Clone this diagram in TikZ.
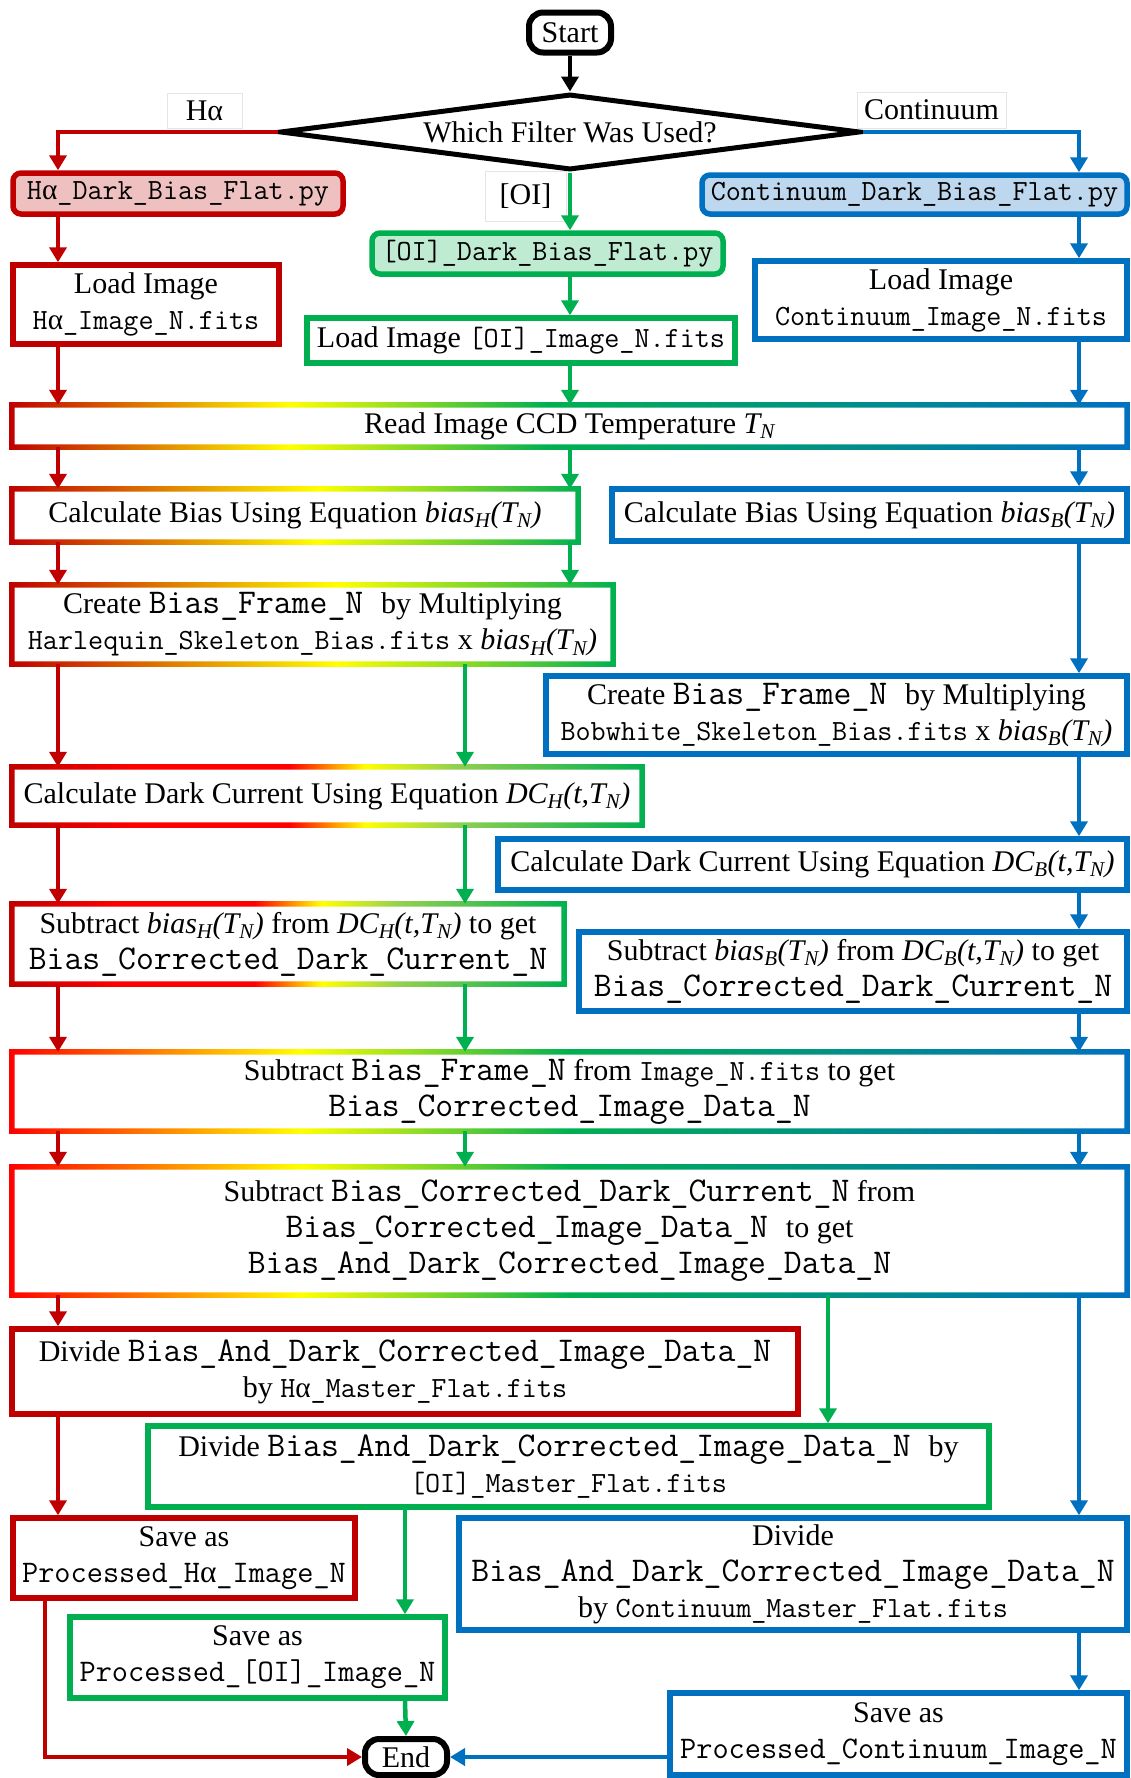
\documentclass[tikz,border=0pt]{standalone}
\usepackage{fontspec}
\setmainfont{Liberation Serif}
\usetikzlibrary{arrows.meta,shapes.geometric,calc}

\definecolor{cR}{HTML}{C00000}
\definecolor{cRR}{HTML}{FF0000}
\definecolor{cY}{HTML}{FFFF00}
\definecolor{cG}{HTML}{00B050}
\definecolor{cLG}{HTML}{92D050}
\definecolor{cB}{HTML}{0070C0}
\definecolor{fR}{HTML}{EFC0C0}
\definecolor{fG}{HTML}{BFEBD3}
\definecolor{fB}{HTML}{BDD7EE}

\pgfdeclarehorizontalshading{shRead}{100bp}{color(0bp)=(cR); color(25bp)=(cR); color(37.5bp)=(cY); color(49bp)=(cG); color(75bp)=(cB); color(100bp)=(cB)}
\pgfdeclarehorizontalshading{shSub}{100bp}{color(0bp)=(cRR); color(25bp)=(cRR); color(38bp)=(cY); color(50bp)=(cG); color(75bp)=(cB); color(100bp)=(cB)}
\pgfdeclarehorizontalshading{shHA}{100bp}{color(0bp)=(cR); color(25bp)=(cR); color(52bp)=(cY); color(75bp)=(cG); color(100bp)=(cG)}
\pgfdeclarehorizontalshading{shHB}{100bp}{color(0bp)=(cR); color(25bp)=(cR); color(35bp)=(cRR); color(47bp)=(cRR); color(53bp)=(cY); color(60bp)=(cLG); color(75bp)=(cG); color(100bp)=(cG)}

\newcommand\ttL{\ttfamily\fontsize{34.7}{36}\selectfont}
\newcommand\ttS{\ttfamily\fontsize{29.3}{36}\selectfont}
\newcommand\ttM{\ttfamily\fontsize{31.4}{36}\selectfont}
\newcommand\alp{{\rmfamily α}}
\newcommand\myTN{\textit{T\textsubscript{N}}}
\newcommand\biasX[1]{\textit{bias\textsubscript{#1}(T\textsubscript{N})}}
\newcommand\dcX[1]{\textit{DC\textsubscript{#1}(t,T\textsubscript{N})}}
\newcommand\gradring[2]{%
  \shade[shading=#2, even odd rule]
    ([shift={(-2.75pt,-2.75pt)}]#1.south west) rectangle ([shift={(2.75pt,2.75pt)}]#1.north east)
    ([shift={(2.75pt,2.75pt)}]#1.south west) rectangle ([shift={(-2.75pt,-2.75pt)}]#1.north east);}

\tikzset{
  base/.style={inner sep=0pt, align=center, font=\fontsize{30}{36}\selectfont},
  pbox/.style={base, draw=#1, line width=5.5pt},
  pybox/.style 2 args={base, draw=#1, fill=#2, line width=5.5pt, rounded corners=8pt},
  gbox/.style={base},
  term/.style={base, draw=black, line width=6pt, rounded corners=14pt},
  lbl/.style={base, draw=black!10, line width=0.8pt},
  arr/.style={line width=4.5pt, -{Triangle[length=15pt,width=17pt]}},
}

\begin{document}
\begin{tikzpicture}[x=1pt,y=-1pt]
\fill[white] (0,0) rectangle (1131,1778);
\useasboundingbox (0,0) rectangle (1131,1778);

% column coordinates
\coordinate (xr) at (58,0);
\coordinate (xrs) at (45,0);
\coordinate (xg1) at (570,0);
\coordinate (xg2) at (465,0);
\coordinate (xg3) at (828,0);
\coordinate (xg4) at (405,0);
\coordinate (xb) at (1079,0);

% terminals and decision
\node[term, minimum width=82, minimum height=40] (start) at (570,32.5) {Start};
\node[base, draw=black, line width=5pt, diamond, aspect=7.6, minimum width=580, minimum height=76] (dia) at (570,132) {Which Filter Was Used?};

% branch labels
\node[lbl, minimum width=75, minimum height=35] (lHa) at (204.5,110.5) {Hα};
\node[lbl, minimum width=81, minimum height=50] (lOI) at (525.5,196) {[OI]};
\node[lbl, minimum width=149, minimum height=36] (lCont) at (931.5,110) {Continuum};

% scripts
\node[pybox={cR}{fR}, minimum width=330, minimum height=41] (pyHa) at (178,193.5) {\ttS H\alp\_Dark\_Bias\_Flat.py};
\node[pybox={cG}{fG}, minimum width=351, minimum height=41] (pyOI) at (547.5,253.5) {\ttS [OI]\_Dark\_Bias\_Flat.py};
\node[pybox={cB}{fB}, minimum width=425, minimum height=39] (pyC) at (914.5,194.5) {\ttS Continuum\_Dark\_Bias\_Flat.py};

% load
\node[pbox=cR, minimum width=266, minimum height=79] (loadHa) at (146,304.5) {Load Image\\{\ttS H\alp\_Image\_N.fits}};
\node[pbox=cG, minimum width=428, minimum height=45] (loadOI) at (521,340.5) {Load Image {\ttS [OI]\_Image\_N.fits}};
\node[pbox=cB, minimum width=372, minimum height=78] (loadC) at (941,300) {Load Image\\{\ttS Continuum\_Image\_N.fits}};

% read temperature
\node[gbox, minimum width=1115, minimum height=42] (read) at (569.5,426) {Read Image CCD Temperature \myTN};
\gradring{read}{shRead}

% bias
\node[gbox, minimum width=566, minimum height=53] (calcBH) at (295,515.5) {Calculate Bias Using Equation \biasX{H}};
\gradring{calcBH}{shHA}
\node[pbox=cB, minimum width=515, minimum height=52] (calcBB) at (869.5,515) {Calculate Bias Using Equation \biasX{B}};

\node[gbox, minimum width=601, minimum height=79] (createH) at (312.5,624.5) {Create {\ttL Bias\_Frame\_N\ }by Multiplying\\{\ttS Harlequin\_Skeleton\_Bias.fits} x \biasX{H}};
\gradring{createH}{shHA}
\node[pbox=cB, minimum width=581, minimum height=78] (createB) at (836.5,715) {Create {\ttL Bias\_Frame\_N\ }by Multiplying\\{\ttS Bobwhite\_Skeleton\_Bias.fits} x \biasX{B}};

% dark current
\node[gbox, minimum width=630, minimum height=58] (calcDH) at (327,796) {Calculate Dark Current Using Equation \dcX{H}};
\gradring{calcDH}{shHB}
\node[pbox=cB, minimum width=629, minimum height=51] (calcDB) at (812.5,864.5) {Calculate Dark Current Using Equation \dcX{B}};

\node[gbox, minimum width=552, minimum height=80] (subH) at (288,944) {Subtract \biasX{H} from \dcX{H} to get\\{\ttL Bias\_Corrected\_Dark\_Current\_N}};
\gradring{subH}{shHB}
\node[pbox=cB, minimum width=548, minimum height=79] (subB) at (853,971.5) {Subtract \biasX{B} from \dcX{B} to get\\{\ttL Bias\_Corrected\_Dark\_Current\_N}};

% common steps
\node[gbox, minimum width=1115, minimum height=79] (subBF) at (569.5,1091.5) {Subtract {\ttL Bias\_Frame\_N} from {\ttS Image\_N.fits} to get\\{\ttL Bias\_Corrected\_Image\_Data\_N}};
\gradring{subBF}{shSub}
\node[gbox, minimum width=1115, minimum height=128] (subDC) at (569.5,1231) {Subtract {\ttL Bias\_Corrected\_Dark\_Current\_N} from\\{\ttL Bias\_Corrected\_Image\_Data\_N\ }to get\\{\ttL Bias\_And\_Dark\_Corrected\_Image\_Data\_N}};
\gradring{subDC}{shSub}

% flats
\node[pbox=cR, minimum width=786, minimum height=85] (divH) at (405,1371.5) {Divide {\ttL Bias\_And\_Dark\_Corrected\_Image\_Data\_N}\\by {\ttS H\alp\_Master\_Flat.fits}};
\node[pbox=cG, minimum width=841, minimum height=81] (divOI) at (568.5,1466.5) {Divide {\ttL Bias\_And\_Dark\_Corrected\_Image\_Data\_N\ }by\\{\ttS [OI]\_Master\_Flat.fits}};
\node[pbox=cB, minimum width=668, minimum height=112] (divC) at (793,1574) {Divide\\{\ttL Bias\_And\_Dark\_Corrected\_Image\_Data\_N}\\by {\ttS Continuum\_Master\_Flat.fits}};

% save
\node[pbox=cR, minimum width=342, minimum height=80] (saveH) at (184,1558) {Save as\\{\ttM Processed\_H\alp\_Image\_N}};
\node[pbox=cG, minimum width=375, minimum height=81] (saveOI) at (257.5,1657.5) {Save as\\{\ttM Processed\_[OI]\_Image\_N}};
\node[pbox=cB, minimum width=457, minimum height=82] (saveC) at (898.5,1734) {Save as\\{\ttM Processed\_Continuum\_Image\_N}};
\node[term, minimum width=82, minimum height=36] (end) at (406,1757) {End};

% ---------- connectors ----------
\draw[arr, black] (start.south) -- (dia.north);

% red (H-alpha)
\draw[arr, cR] (dia.west) -| (pyHa.north -| xr);
\draw[arr, cR] (pyHa.south -| xr) -- (loadHa.north -| xr);
\draw[arr, cR] (loadHa.south -| xr) -- (read.north -| xr);
\draw[arr, cR] (read.south -| xr) -- (calcBH.north -| xr);
\draw[arr, cR] (calcBH.south -| xr) -- (createH.north -| xr);
\draw[arr, cR] (createH.south -| xr) -- (calcDH.north -| xr);
\draw[arr, cR] (calcDH.south -| xr) -- (subH.north -| xr);
\draw[arr, cR] (subH.south -| xr) -- (subBF.north -| xr);
\draw[arr, cR] (subBF.south -| xr) -- (subDC.north -| xr);
\draw[arr, cR] (subDC.south -| xr) -- (divH.north -| xr);
\draw[arr, cR] (divH.south -| xr) -- (saveH.north -| xr);
\draw[arr, cR] (saveH.south -| xrs) |- (end.west);

% green ([OI])
\draw[arr, cG] (dia.south) -- (pyOI.north -| dia.south);
\draw[arr, cG] (pyOI.south -| xg1) -- (loadOI.north -| xg1);
\draw[arr, cG] (loadOI.south -| xg1) -- (read.north -| xg1);
\draw[arr, cG] (read.south -| xg1) -- (calcBH.north -| xg1);
\draw[arr, cG] (calcBH.south -| xg1) -- (createH.north -| xg1);
\draw[arr, cG] (createH.south -| xg2) -- (calcDH.north -| xg2);
\draw[arr, cG] (calcDH.south -| xg2) -- (subH.north -| xg2);
\draw[arr, cG] (subH.south -| xg2) -- (subBF.north -| xg2);
\draw[arr, cG] (subBF.south -| xg2) -- (subDC.north -| xg2);
\draw[arr, cG] (subDC.south -| xg3) -- (divOI.north -| xg3);
\draw[arr, cG] (divOI.south -| xg4) -- (saveOI.north -| xg4);
\draw[arr, cG] (saveOI.south -| xg4) -- (end.north);

% blue (Continuum)
\draw[arr, cB] (dia.east) -| (pyC.north -| xb);
\draw[arr, cB] (pyC.south -| xb) -- (loadC.north -| xb);
\draw[arr, cB] (loadC.south -| xb) -- (read.north -| xb);
\draw[arr, cB] (read.south -| xb) -- (calcBB.north -| xb);
\draw[arr, cB] (calcBB.south -| xb) -- (createB.north -| xb);
\draw[arr, cB] (createB.south -| xb) -- (calcDB.north -| xb);
\draw[arr, cB] (calcDB.south -| xb) -- (subB.north -| xb);
\draw[arr, cB] (subB.south -| xb) -- (subBF.north -| xb);
\draw[arr, cB] (subBF.south -| xb) -- (subDC.north -| xb);
\draw[arr, cB] (subDC.south -| xb) -- (divC.north -| xb);
\draw[arr, cB] (divC.south -| xb) -- (saveC.north -| xb);
\draw[arr, cB] (end.east -| saveC.west) -- (end.east);
\end{tikzpicture}
\end{document}
